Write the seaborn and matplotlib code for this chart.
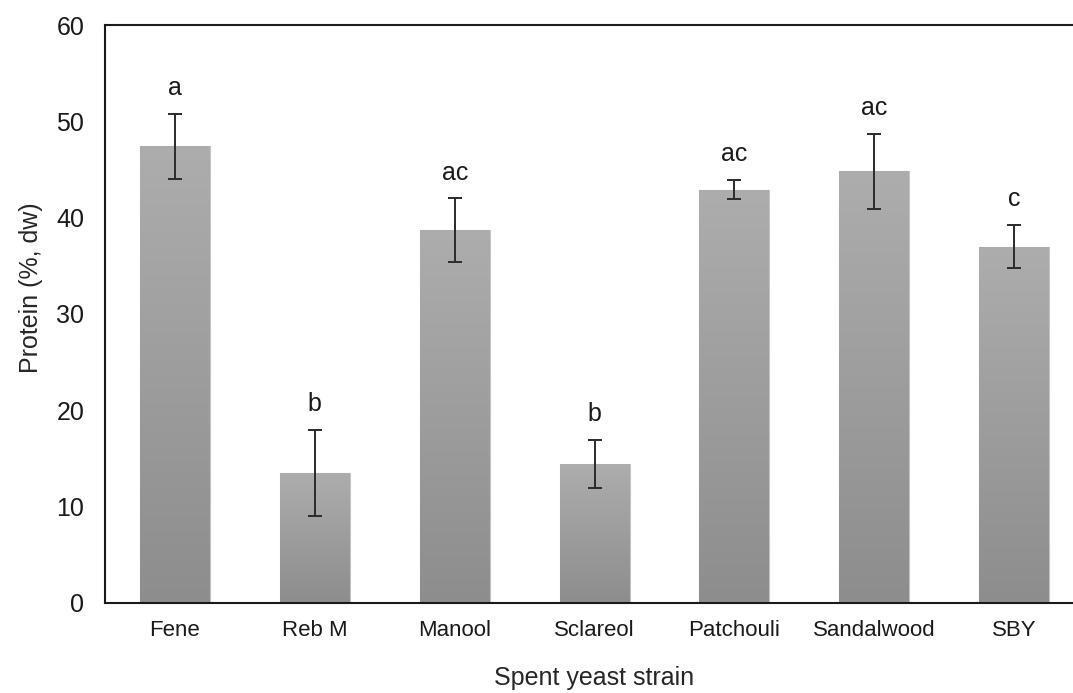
import numpy as np
import pandas as pd
import matplotlib
matplotlib.use("Agg")
import matplotlib.pyplot as plt
import seaborn as sns

strains = ["Fene", "Reb M", "Manool", "Sclareol", "Patchouli", "Sandalwood", "SBY"]
protein = [47.4, 13.5, 38.7, 14.4, 42.9, 44.8, 37.0]
errors = [3.4, 4.5, 3.3, 2.5, 1.0, 3.9, 2.25]
letters = ["a", "b", "ac", "b", "ac", "ac", "c"]

sns.set_style("white")
plt.rcParams["font.family"] = ["Liberation Sans", "DejaVu Sans"]
plt.rcParams["text.color"] = "#1a1a1a"

df = pd.DataFrame({"strain": strains, "protein": protein})

fig = plt.figure(figsize=(10.73, 6.93), dpi=100)
ax = fig.add_axes([0.0979, 0.1299, 0.9124, 0.8340])

sns.barplot(data=df, x="strain", y="protein", color="#9c9c9c", width=0.5,
            errorbar=None, ax=ax, saturation=1)

# vertical gradient on each bar (light at top, darker at bottom)
grad = np.linspace(0, 1, 256).reshape(-1, 1)
cmap = matplotlib.colors.LinearSegmentedColormap.from_list("g", ["#8d8d8d", "#adadad"])
for p in list(ax.patches):
    x0, y0 = p.get_x(), p.get_y()
    w, h = p.get_width(), p.get_height()
    im = ax.imshow(grad, extent=[x0, x0 + w, y0, y0 + h], origin="lower",
                   cmap=cmap, aspect="auto", zorder=p.get_zorder())
    im.set_clip_path(p)
    p.set_facecolor("none")
    p.set_edgecolor("#c4c4c4")
    p.set_linewidth(0.8)

xpos = np.arange(len(strains))
ax.errorbar(xpos, protein, yerr=errors, fmt="none", ecolor="#2b2b2b",
            elinewidth=1.4, capsize=5, capthick=1.4, zorder=5)

for xi, m, e, lab in zip(xpos, protein, errors, letters):
    ax.annotate(lab, xy=(xi, m + e), xytext=(0, 13.5), textcoords="offset points",
                ha="center", va="baseline", fontsize=18, color="#1a1a1a")

ax.set_xlim(-0.5, len(strains) - 0.5)
ax.set_ylim(0, 60)
ax.set_yticks([0, 10, 20, 30, 40, 50, 60])
ax.tick_params(axis="both", length=0)
ax.tick_params(axis="y", labelsize=18, pad=15, labelcolor="#1a1a1a")
ax.tick_params(axis="x", labelsize=16, pad=12, labelcolor="#1a1a1a")
ax.set_xlabel("Spent yeast strain", fontsize=18, labelpad=18)
ax.set_ylabel("Protein (%, dw)", fontsize=18, labelpad=12)
ax.yaxis.set_label_coords(-0.063, 0.545)

for s in ["left", "bottom", "top"]:
    ax.spines[s].set_visible(True)
    ax.spines[s].set_color("#1a1a1a")
    ax.spines[s].set_linewidth(1.5)
ax.spines["right"].set_visible(False)

fig.savefig("out.png", dpi=100)
